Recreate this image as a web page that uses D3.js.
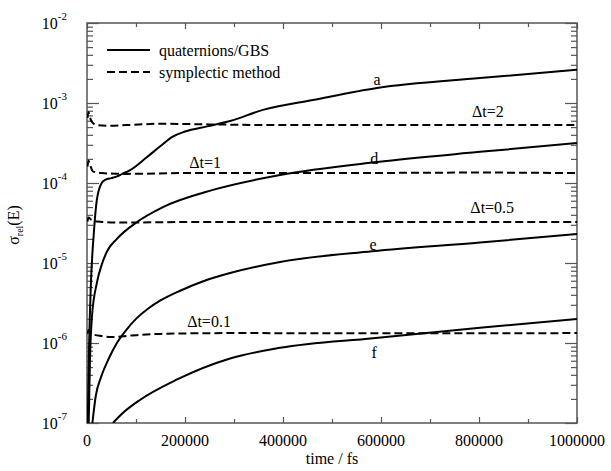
<!DOCTYPE html>
<html>
<head>
<meta charset="utf-8">
<script src="https://cdn.jsdelivr.net/npm/d3@7"></script>
<style>
  body { margin: 0; background: #fff; }
</style>
</head>
<body>
<svg id="chart" width="611" height="471"></svg>
<script>
// Relative energy error vs time.
// Each point is [time in fs, sigma_rel(E)].
var curveA = [[1500,1e-7],[4000,8e-7],[8000,5.6e-6],[14000,2.4e-5],[20000,6.1e-5],[30000,1e-4],
  [38000,1.1e-4],[50000,1.15e-4],[60000,1.2e-4],[72000,1.3e-4],[88000,1.45e-4],[122000,2.1e-4],
  [150000,2.9e-4],[175000,3.8e-4],[200000,4.4e-4],[245000,5.1e-4],[292000,5.95e-4],[359000,8.2e-4],
  [461000,1.09e-3],[592000,1.54e-3],[802000,2.05e-3],[1000000,2.6e-3]];
var curveD = [[3500,1e-7],[6000,6e-7],[10000,2.1e-6],[20000,5.6e-6],[30000,9.5e-6],[41000,1.4e-5],
  [61000,2e-5],[102000,3.25e-5],[155000,5e-5],[257000,8.2e-5],[394000,1.26e-4],[592000,1.83e-4],
  [802000,2.45e-4],[1000000,3.16e-4]];
var curveE = [[11000,1e-7],[18000,2.2e-7],[29000,3.8e-7],[45000,6.5e-7],[61000,1e-6],[80000,1.45e-6],
  [100000,2e-6],[125000,2.7e-6],[150000,3.4e-6],[190000,4.5e-6],[240000,6e-6],[292000,7.5e-6],
  [394000,1.03e-5],[582000,1.4e-5],[802000,1.8e-5],[1000000,2.3e-5]];
var curveF = [[53000,1e-7],[73000,1.33e-7],[108000,1.94e-7],[184000,3.5e-7],[292000,6.4e-7],
  [394000,8.7e-7],[584000,1.15e-6],[802000,1.55e-6],[1000000,2e-6]];

var dt2 = [[1000,6.5e-4],[3000,7.7e-4],[6000,6.6e-4],[10000,5.8e-4],[20000,5.3e-4],[40000,5.2e-4],
  [80000,5.3e-4],[150000,5.5e-4],[250000,5.4e-4],[400000,5.3e-4],[700000,5.3e-4],[1000000,5.3e-4]];
var dt1 = [[1000,1.6e-4],[3000,1.9e-4],[6000,1.7e-4],[12000,1.4e-4],[30000,1.33e-4],[80000,1.3e-4],
  [200000,1.33e-4],[500000,1.33e-4],[800000,1.35e-4],[1000000,1.33e-4]];
var dt05 = [[1000,3.3e-5],[3000,3.7e-5],[8000,3.5e-5],[20000,3.3e-5],[60000,3.2e-5],[200000,3.25e-5],
  [500000,3.25e-5],[1000000,3.25e-5]];
var dt01 = [[1000,1.3e-6],[3000,1.45e-6],[10000,1.3e-6],[30000,1.22e-6],[50000,1.19e-6],
  [90000,1.24e-6],[150000,1.3e-6],[300000,1.33e-6],[600000,1.32e-6],[1000000,1.33e-6]];

var solidSeries = [curveA, curveD, curveE, curveF];
var dashedSeries = [dt2, dt1, dt05, dt01];

// Curve annotations: [text, time, sigma]
var annotations = [["a",592000,1.68e-3],["d",586000,1.73e-4],["e",584000,1.45e-5],["f",586000,6.5e-7],
  ["\u0394t=2",818000,6.7e-4],["\u0394t=1",241000,1.54e-4],["\u0394t=0.5",827000,4.2e-5],["\u0394t=0.1",249000,1.58e-6]];

var xMajor = [0,200000,400000,600000,800000,1000000];
var xMinor = [100000,300000,500000,700000,900000];
var yExponents = [-7,-6,-5,-4,-3,-2];
var legendLabels = ["quaternions/GBS", "symplectic method"];

var margin = {left: 87, top: 23, right: 34, bottom: 48};
var width = 611 - margin.left - margin.right;
var height = 471 - margin.top - margin.bottom;

var fontFamily = "'Liberation Serif', 'Times New Roman', Times, 'DejaVu Serif', serif";
var fontSize = 16;

var svg = d3.select("#chart")
  .attr("font-family", fontFamily);
var g = svg.append("g").attr("transform", "translate(" + margin.left + "," + margin.top + ")");

var x = d3.scaleLinear().domain([0, 1000000]).range([0, width]);
var y = d3.scaleLog().domain([1e-7, 1e-2]).range([height, 0]);

var yMajor = yExponents.map(function(e) { return Math.pow(10, e); });
var yMinor = [];
yExponents.slice(0, -1).forEach(function(e) {
  for (var k = 2; k <= 9; k++) yMinor.push(k * Math.pow(10, e));
});

var axisColor = "#555";

function styleAxis(sel) {
  sel.select(".domain").remove();
  sel.selectAll("line").attr("stroke", axisColor).attr("stroke-width", 1.2);
  sel.selectAll("text").remove();
}

// ticks, all pointing inward, on all four sides
g.append("g").attr("transform", "translate(0," + height + ")")
  .call(d3.axisBottom(x).tickValues(xMajor).tickSizeInner(-6).tickFormat("")).call(styleAxis);
g.append("g").attr("transform", "translate(0," + height + ")")
  .call(d3.axisBottom(x).tickValues(xMinor).tickSizeInner(-4).tickFormat("")).call(styleAxis);
g.append("g")
  .call(d3.axisTop(x).tickValues(xMajor).tickSizeInner(-6).tickFormat("")).call(styleAxis);
g.append("g")
  .call(d3.axisTop(x).tickValues(xMinor).tickSizeInner(-4).tickFormat("")).call(styleAxis);
g.append("g")
  .call(d3.axisLeft(y).tickValues(yMajor).tickSizeInner(-12).tickFormat("")).call(styleAxis);
g.append("g")
  .call(d3.axisLeft(y).tickValues(yMinor).tickSizeInner(-6).tickFormat("")).call(styleAxis);
g.append("g").attr("transform", "translate(" + width + ",0)")
  .call(d3.axisRight(y).tickValues(yMajor).tickSizeInner(-12).tickFormat("")).call(styleAxis);
g.append("g").attr("transform", "translate(" + width + ",0)")
  .call(d3.axisRight(y).tickValues(yMinor).tickSizeInner(-6).tickFormat("")).call(styleAxis);

// frame
g.append("rect").attr("width", width).attr("height", height)
  .attr("fill", "none").attr("stroke", axisColor).attr("stroke-width", 1.5);

// tick labels
g.selectAll(".xlab").data(xMajor).enter().append("text")
  .attr("x", function(d) { return x(d); })
  .attr("y", height + 23)
  .attr("text-anchor", "middle")
  .attr("font-size", fontSize)
  .text(function(d) { return d; });

var ylab = g.selectAll(".ylab").data(yExponents).enter().append("text")
  .attr("x", -20)
  .attr("y", function(d) { return y(Math.pow(10, d)) + 6; })
  .attr("text-anchor", "end")
  .attr("font-size", fontSize);
ylab.append("tspan").text("10");
ylab.append("tspan").attr("dy", -9).attr("font-size", 11).text(function(d) { return "-" + (-d); });

// axis titles
g.append("text").attr("x", width / 2).attr("y", height + 41)
  .attr("text-anchor", "middle").attr("font-size", fontSize).text("time / fs");

var ytitle = svg.append("text")
  .attr("transform", "translate(19,225) rotate(-90)")
  .attr("text-anchor", "middle").attr("font-size", fontSize);
ytitle.append("tspan").text("\u03c3");
ytitle.append("tspan").attr("dy", 4).attr("font-size", 10).text("rel");
ytitle.append("tspan").attr("dy", -4).text("(E)");

// data lines
g.append("clipPath").attr("id", "plotclip").append("rect")
  .attr("width", width).attr("height", height);

var line = d3.line()
  .x(function(d) { return x(d[0]); })
  .y(function(d) { return y(d[1]); })
  .curve(d3.curveMonotoneX);

var plot = g.append("g").attr("clip-path", "url(#plotclip)");

plot.selectAll(".solid").data(solidSeries).enter().append("path")
  .attr("d", line)
  .attr("fill", "none").attr("stroke", "#000").attr("stroke-width", 2);

plot.selectAll(".dashed").data(dashedSeries).enter().append("path")
  .attr("d", line)
  .attr("fill", "none").attr("stroke", "#000").attr("stroke-width", 2)
  .attr("stroke-dasharray", "8,4");

// annotations
g.selectAll(".note").data(annotations).enter().append("text")
  .attr("x", function(d) { return x(d[1]); })
  .attr("y", function(d) { return y(d[2]); })
  .attr("text-anchor", "middle")
  .attr("font-size", fontSize)
  .text(function(d) { return d[0]; });

// legend
var legend = g.selectAll(".legend").data(legendLabels).enter().append("g")
  .attr("transform", function(d, i) { return "translate(20," + (27 + i * 22) + ")"; });
legend.append("line")
  .attr("x1", 0).attr("x2", 43)
  .attr("stroke", "#000").attr("stroke-width", 2)
  .attr("stroke-dasharray", function(d, i) { return i ? "8,4" : null; });
legend.append("text")
  .attr("x", 52).attr("y", 6)
  .attr("font-size", fontSize)
  .text(function(d) { return d; });
</script>
</body>
</html>
